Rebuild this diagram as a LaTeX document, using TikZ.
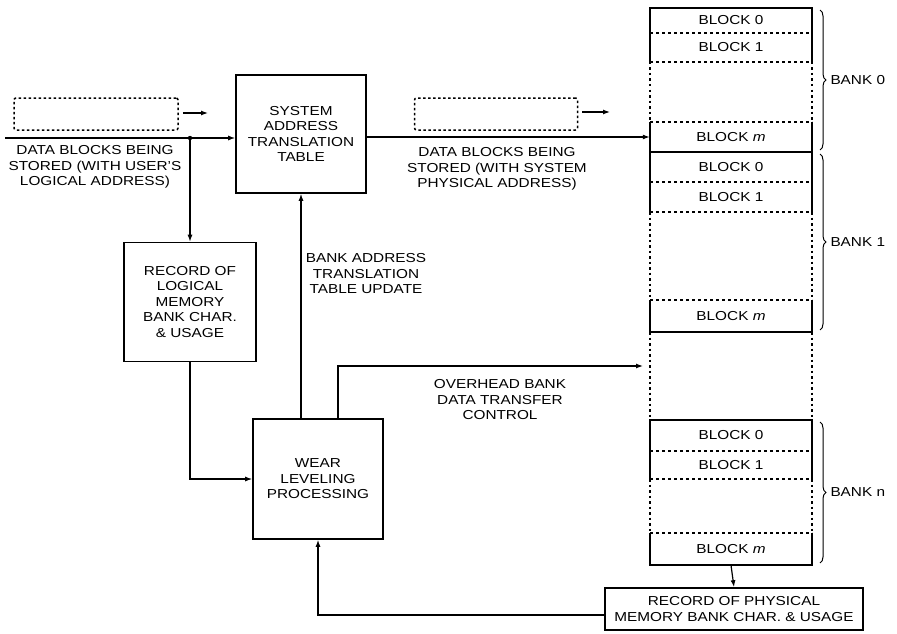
\documentclass[tikz,border=0pt]{standalone}
\usepackage{fontspec}
\setmainfont{Liberation Sans}[FakeStretch=1.18]
\usetikzlibrary{arrows.meta,decorations.pathreplacing,positioning}
\begin{document}
\begin{tikzpicture}[x=1pt,y=-1pt,
  font=\fontsize{13}{15.5}\selectfont,
  box/.style={draw,line width=1.6pt,align=center,inner sep=0pt},
  flow/.style={line width=1.2pt,-{Latex[length=7pt,width=5pt]}},
  lbl/.style={align=center,inner sep=0pt},
  ghost/.style={draw,dash pattern=on 2.5pt off 2.5pt,line width=1.5pt,rounded corners=2pt,inner sep=0pt},
  blk/.style={minimum width=162pt,inner sep=0pt},
  memside/.style={line width=1.4pt},
  dotside/.style={line width=1.7pt,dash pattern=on 2.5pt off 3pt},
  divider/.style={line width=1.4pt,dash pattern=on 3pt off 3pt},
  ]
  \useasboundingbox (0,0) rectangle (897,634);

  % processing boxes
  \node[box,minimum width=130pt,minimum height=118pt] (satt) at (301,134)
    {SYSTEM\\ADDRESS\\TRANSLATION\\TABLE};
  \node[box,minimum width=132pt,minimum height=119pt] (logrec) at (190,302)
    {RECORD OF\\LOGICAL\\MEMORY\\BANK CHAR.\\\& USAGE};
  \node[box,minimum width=130pt,minimum height=120pt] (wear) at (318,479)
    {WEAR\\LEVELING\\PROCESSING};
  \node[box,minimum width=258pt,minimum height=42pt] (physrec) at (734,609)
    {RECORD OF PHYSICAL\\MEMORY BANK CHAR. \& USAGE};

  % memory banks
  \foreach \t/\a/\b/\c/\d/\n in {8/33/62/122/152/0, 152/182/212/300/332/1,
                                  420/451/479/533/565/n} {
    \draw[memside] (650,\b) -- (650,\t) -- (812,\t) -- (812,\b);
    \draw[dotside] (650,\b) -- (650,\c) (812,\b) -- (812,\c);
    \draw[memside] (650,\c) -- (650,\d) -- (812,\d) -- (812,\c);
    \draw[divider] (650,\a) -- (812,\a)
      (650,\b) -- (812,\b) (650,\c) -- (812,\c);
    \node[blk,minimum height={\a-\t}] (bank\n-0) at (731,{(\t+\a)/2}) {BLOCK 0};
    \node[blk,minimum height={\b-\a}] (bank\n-1) at (731,{(\a+\b)/2}) {BLOCK 1};
    \node[blk,minimum height={\d-\c}] (bank\n-m) at (731,{(\c+\d)/2}) {BLOCK \textit{m}};
    \draw[decorate,decoration={brace,amplitude=6pt},line width=1pt]
      (820,\t+2) -- (820,\d-2) node[midway,right=10pt,inner sep=0pt] (bank\n-lbl) {BANK \n};
  }
  \draw[dotside] (650,332) -- (650,420) (812,332) -- (812,420);

  % data flow
  \coordinate (in) at (5,138);
  \coordinate (split) at (190,138);
  \fill (split) circle (2.2pt);
  \draw[flow] (in) -- (satt.west |- in);
  \draw[flow] (split) -- (logrec.north);
  \draw[flow] (satt.east |- bank0-m) -- (bank0-m.west);

  \node[ghost,minimum width=164pt,minimum height=32pt] (ghostin) at (96,114) {};
  \node[ghost,minimum width=163pt,minimum height=32pt] (ghostout) at (496,114) {};
  \coordinate (inarrow) at (208,113);
  \coordinate (outarrow) at (610,112);
  \draw[flow] ([xshift=4pt]ghostin.east |- inarrow) -- (inarrow);
  \draw[flow] ([xshift=4pt]ghostout.east |- outarrow) -- (outarrow);

  \node[lbl] (userlbl) at (95,167) {DATA BLOCKS BEING\\STORED (WITH USER'S\\LOGICAL ADDRESS)};
  \node[lbl] (syslbl) at (497,169) {DATA BLOCKS BEING\\STORED (WITH SYSTEM\\PHYSICAL ADDRESS)};

  % control paths
  \draw[flow] (logrec.south) |- (wear.west);
  \draw[flow] (wear.north -| satt.south) -- (satt.south);
  \node[lbl] (updlbl) at (366,274) {BANK ADDRESS\\TRANSLATION\\TABLE UPDATE};

  \coordinate (ovhd) at (643,366);
  \draw[flow] ([xshift=20pt]wear.north) |- (ovhd);
  \node[lbl] (ovhdlbl) at (500,400) {OVERHEAD BANK\\DATA TRANSFER\\CONTROL};

  \draw[flow] (bankn-m.south) -- (physrec.north);
  \draw[flow] ([yshift=-6pt]physrec.west) -| (wear.south);
\end{tikzpicture}
\end{document}
